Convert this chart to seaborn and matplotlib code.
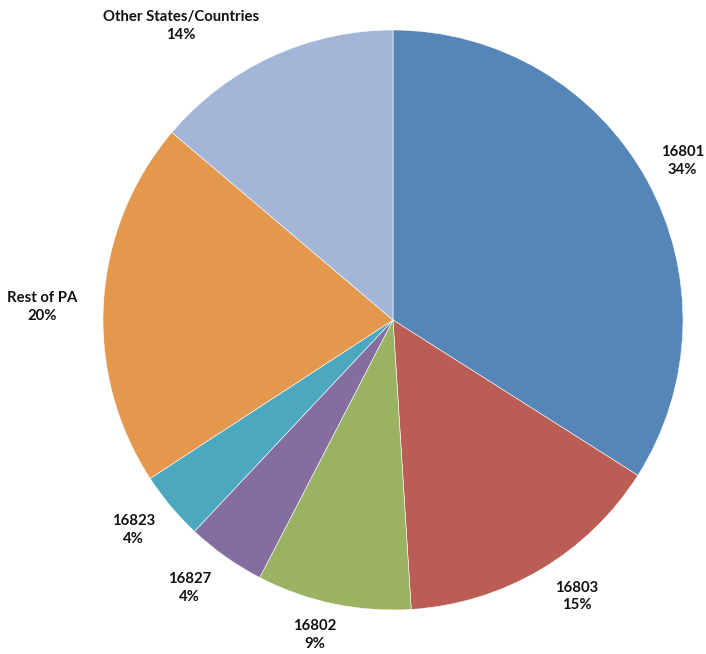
import numpy as np
import matplotlib
matplotlib.use("Agg")
import matplotlib.pyplot as plt
import seaborn as sns

# Share of records by origin (percent), clockwise from 12 o'clock
categories = ["16801", "16803", "16802", "16827", "16823", "Rest of PA", "Other States/Countries"]
shares = [34.0, 15.0, 8.6, 4.4, 3.8, 20.4, 13.8]
colors = ["#5586B7", "#BA5D54", "#9CB263", "#846EA0", "#4BA8BE", "#E4984E", "#A3B6D8"]
# radial distance of each label, as a multiple of the radius
label_dist = [1.14, 1.145, 1.12, 1.16, 1.15, 1.21, 1.25]
label_turn = [0.0, 3.0, -2.0, -2.0, -1.0, 1.5, 11.0]

sns.set_theme(style="white")
plt.rcParams["font.family"] = ["Lato", "DejaVu Sans"]

W, H = 706, 654
fig = plt.figure(figsize=(W / 100, H / 100), dpi=100)
ax = fig.add_axes([0, 0, 1, 1])

wedges, _ = ax.pie(
    shares, colors=colors, startangle=90, counterclock=False,
    radius=1.0, wedgeprops=dict(edgecolor="white", linewidth=0.4),
)

total = sum(shares)
for w, name, val, d, t in zip(wedges, categories, shares, label_dist, label_turn):
    mid = np.deg2rad((w.theta1 + w.theta2) / 2 + t)
    ax.text(d * np.cos(mid), d * np.sin(mid), f"{name}\n{val / total * 100:.0f}%",
            ha="center", va="center", fontsize=10.7, fontweight="bold",
            color="#111111", linespacing=1.35)

# place the pie: centre at (393, 320) px, radius 290 px
cx, cy, R = 393, 320, 290
ax.set_xlim(-cx / R, (W - cx) / R)
ax.set_ylim(-(H - cy) / R, cy / R)
ax.set_aspect("auto")
ax.axis("off")

fig.savefig("out.png", dpi=100, facecolor="white")
